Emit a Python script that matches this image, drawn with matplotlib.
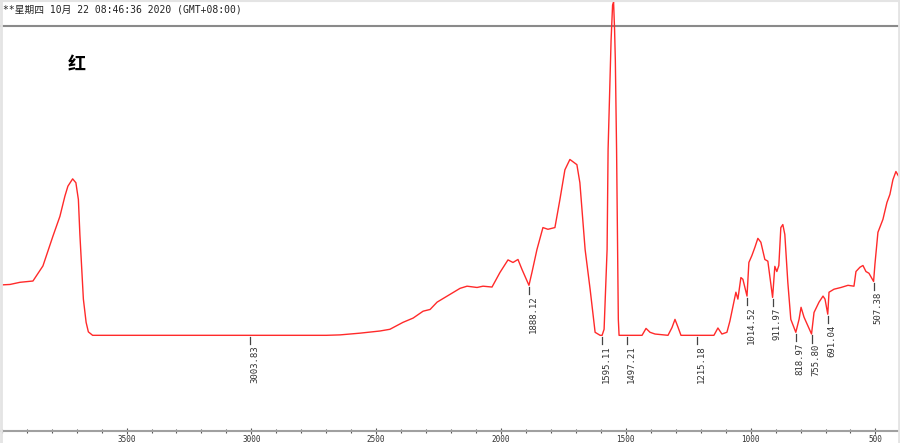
import numpy as np
import matplotlib
matplotlib.use("Agg")
import matplotlib.pyplot as plt
from matplotlib.ticker import MultipleLocator
from matplotlib.lines import Line2D

# IR spectrum (wavenumber cm-1, transmittance in arbitrary units)
wavenumber = [
    4000, 3967, 3927, 3875, 3835, 3795, 3767, 3747, 3735, 3716, 3703, 3693, 3687, 3680,
    3673, 3662, 3653, 3636, 2700, 2645, 2565, 2485, 2445, 2393, 2352, 2312, 2284, 2256,
    2204, 2164, 2136, 2096, 2072, 2036, 2004, 1972, 1952, 1932, 1916, 1888, 1876, 1856,
    1832, 1812, 1784, 1764, 1744, 1724, 1696, 1684, 1663, 1643, 1623, 1603, 1595, 1587,
    1575, 1571, 1559, 1553, 1549, 1545, 1542, 1537, 1533, 1530, 1527, 1435, 1419, 1403,
    1383, 1331, 1315, 1303, 1291, 1279, 1147, 1131, 1115, 1095, 1083, 1071, 1059, 1051,
    1039, 1031, 1014.5, 1007, 995, 983, 971, 959, 943, 931, 912, 903, 895, 887,
    879, 871, 863, 851, 839, 819, 806, 798, 786, 770, 756, 746, 726, 710,
    702, 691, 686, 666, 638, 610, 586, 578, 562, 550, 538, 526, 507.4, 502,
    490, 470, 454, 442, 430, 418, 406,
]
transmittance = [
    33.9, 34.0, 34.5, 34.8, 38.3, 45.2, 49.8, 54.5, 56.8, 58.5, 57.6, 53.7, 45.6, 38.3,
    30.6, 25.2, 23.0, 22.2, 22.2, 22.3, 22.7, 23.2, 23.6, 25.2, 26.2, 27.8, 28.2, 29.9,
    31.7, 33.1, 33.6, 33.3, 33.6, 33.4, 36.8, 39.7, 39.1, 39.8, 37.5, 33.8, 36.8, 42.1,
    47.2, 46.8, 47.2, 53.7, 60.6, 63.0, 61.8, 57.6, 42.1, 32.9, 22.9, 22.2, 22.2, 23.6,
    42.1, 65.3, 90.7, 98.8, 99.5, 93.1, 86.1, 65.3, 42.1, 25.9, 22.2, 22.2, 23.8, 22.9,
    22.5, 22.2, 24.0, 25.9, 24.1, 22.2, 22.2, 23.9, 22.5, 22.9, 25.5, 28.9, 32.2, 30.6,
    35.6, 35.2, 31.3, 39.1, 40.7, 42.6, 44.7, 43.8, 39.8, 39.4, 31.0, 38.2, 37.0, 38.4,
    47.2, 47.9, 45.6, 34.5, 25.9, 22.9, 25.9, 28.7, 26.4, 24.3, 22.5, 27.5, 29.9, 31.3,
    30.6, 27.1, 32.2, 32.9, 33.3, 33.8, 33.6, 37.0, 38.0, 38.4, 37.0, 36.6, 34.7, 38.7,
    46.1, 49.1, 53.0, 54.9, 58.3, 60.2, 59.0,
]
peak_labels = ["3003.83", "1888.12", "1595.11", "1497.21", "1215.18", "1014.52",
               "911.97", "818.97", "755.80", "691.04", "507.38"]
x_ticks = [3500, 3000, 2500, 2000, 1500, 1000, 500]
header = "**星期四 10月 22 08:46:36 2020 (GMT+08:00)"
sample_name = "红"

W, H = 900, 443
fig = plt.figure(figsize=(W / 100, H / 100), dpi=100)
ax = fig.add_axes([0, 12 / H, 1, 431 / H])

ax.plot(wavenumber, transmittance, color="#ff2a2a", lw=1.0, zorder=3)

# peak markers: short tick under the curve, value written vertically below it
wn_arr = np.array(wavenumber[::-1])
t_arr = np.array(transmittance[::-1])
for lab in peak_labels:
    x = float(lab)
    y = np.interp(x, wn_arr, t_arr)
    ax.plot([x, x], [y - 0.4, y - 2.1], color="#444444", lw=0.9)
    ax.text(x, y - 2.4, lab, rotation=90, ha="left", va="top", fontsize=6.5,
            family="DejaVu Sans Mono", color="#333333")

# frame line under the header
ax.axhline(94.0, color="#8a8a8a", lw=1.5)

ax.set_xlim(4007, 401.6)
ax.set_ylim(0, 100)
ax.set_xticks(x_ticks)
ax.xaxis.set_minor_locator(MultipleLocator(100))
ax.tick_params(axis="x", which="major", direction="inout", length=5, width=0.8,
               color="#555555", labelsize=5.5, labelcolor="#333333", pad=0.5)
ax.tick_params(axis="x", which="minor", direction="inout", length=3, width=0.8,
               color="#555555")
for lbl in ax.get_xticklabels():
    lbl.set_family("DejaVu Sans Mono")
ax.set_yticks([])
for side in ["top", "left", "right"]:
    ax.spines[side].set_visible(False)
ax.spines["bottom"].set_color("#a0a0a0")
ax.spines["bottom"].set_linewidth(1.5)
ax.patch.set_alpha(0)

fig.text(3 / W, 1 - 10 / H, header, ha="left", va="center", fontsize=7,
         family=["DejaVu Sans Mono", "Noto Sans CJK SC"], color="#222222")
fig.text(77 / W, 1 - 65 / H, sample_name, ha="center", va="center", fontsize=13,
         family=["Noto Sans CJK SC"], fontweight="bold", color="black")

# light grey window edges
fig.add_artist(Line2D([1 / W, 1 / W], [0, 1], color="#e4e4e4", lw=2))
fig.add_artist(Line2D([899 / W, 899 / W], [0, 1], color="#e4e4e4", lw=2))
fig.add_artist(Line2D([0, 1], [1 - 0.5 / H, 1 - 0.5 / H], color="#e4e4e4", lw=1.5))

fig.savefig("out.png", dpi=100)
